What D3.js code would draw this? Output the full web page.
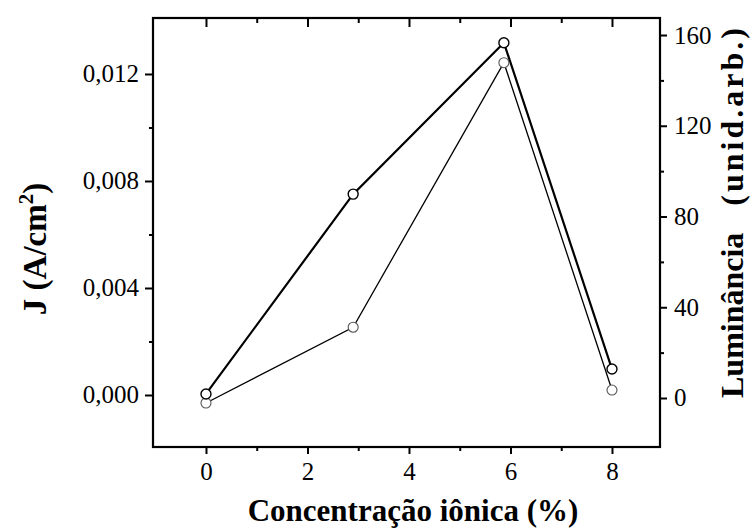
<!DOCTYPE html>
<html>
<head>
<meta charset="utf-8">
<script src="https://cdn.jsdelivr.net/npm/d3@7"></script>
<style>
  body { margin: 0; background: #fff; }
  svg { display: block; }
  text { font-family: "Liberation Serif", "Times New Roman", serif; fill: #000; }
</style>
</head>
<body>
<svg id="chart" width="753" height="529"></svg>
<script>
// Ionic concentration (%) and the two measured responses
const concentration = [0, 2.9, 5.87, 8];
const currentDensity = [0.00004, 0.00751, 0.01317, 0.00097];   // J (A/cm²)
const luminance = [-2.2, 31.2, 147.8, 3.5];                    // arbitrary units

const xMajorTicks = [0, 2, 4, 6, 8];
const xMinorTicks = [1, 3, 5, 7];
const jMajorTicks = [0, 0.004, 0.008, 0.012];
const jMinorTicks = [0.002, 0.006, 0.010];
const lumMajorTicks = [0, 40, 80, 120, 160];
const lumMinorTicks = [20, 60, 100, 140];

const frame = { left: 153, right: 660, top: 18, bottom: 447 };

const svg = d3.select("#chart");

const x = d3.scaleLinear().domain([-1.044, 8.946]).range([frame.left, frame.right]);
const yJ = d3.scaleLinear().domain([-0.001944, 0.014093]).range([frame.bottom, frame.top]);
const yL = d3.scaleLinear().domain([-21.6, 167.5]).range([frame.bottom, frame.top]);

const commaFmt = f => v => d3.format(f)(v).replace(".", ",");

function styleAxis(g, size) {
  g.select(".domain").remove();
  g.selectAll(".tick line").attr("stroke", "#000").attr("stroke-width", 2);
  g.selectAll(".tick text").style("font-size", size + "px");
}

// bottom axis
svg.append("g").attr("transform", `translate(0,${frame.bottom})`)
  .call(d3.axisBottom(x).tickValues(xMajorTicks).tickSize(7).tickPadding(8).tickFormat(d3.format("d")))
  .call(g => styleAxis(g, 25));
svg.append("g").attr("transform", `translate(0,${frame.bottom})`)
  .call(d3.axisBottom(x).tickValues(xMinorTicks).tickSize(4).tickFormat(""))
  .call(g => styleAxis(g, 25));

// top axis, ticks pointing inward
svg.append("g").attr("transform", `translate(0,${frame.top})`)
  .call(d3.axisTop(x).tickValues(xMajorTicks).tickSize(-9).tickFormat(""))
  .call(g => styleAxis(g, 25));
svg.append("g").attr("transform", `translate(0,${frame.top})`)
  .call(d3.axisTop(x).tickValues(xMinorTicks).tickSize(-5).tickFormat(""))
  .call(g => styleAxis(g, 25));

// left axis: current density
svg.append("g").attr("transform", `translate(${frame.left},0)`)
  .call(d3.axisLeft(yJ).tickValues(jMajorTicks).tickSize(8).tickPadding(6).tickFormat(commaFmt(".3f")))
  .call(g => styleAxis(g, 25));
svg.append("g").attr("transform", `translate(${frame.left},0)`)
  .call(d3.axisLeft(yJ).tickValues(jMinorTicks).tickSize(4).tickFormat(""))
  .call(g => styleAxis(g, 25));

// right axis: luminance
svg.append("g").attr("transform", `translate(${frame.right},0)`)
  .call(d3.axisRight(yL).tickValues(lumMajorTicks).tickSize(7).tickPadding(7).tickFormat(d3.format("d")))
  .call(g => styleAxis(g, 25));
svg.append("g").attr("transform", `translate(${frame.right},0)`)
  .call(d3.axisRight(yL).tickValues(lumMinorTicks).tickSize(4).tickFormat(""))
  .call(g => styleAxis(g, 25));

// plot frame
svg.append("rect")
  .attr("x", frame.left).attr("y", frame.top)
  .attr("width", frame.right - frame.left).attr("height", frame.bottom - frame.top)
  .attr("fill", "none").attr("stroke", "#000").attr("stroke-width", 2.2);

// series
const jData = concentration.map((c, i) => [c, currentDensity[i]]);
const lData = concentration.map((c, i) => [c, luminance[i]]);

svg.append("path").datum(lData)
  .attr("fill", "none").attr("stroke", "#000").attr("stroke-width", 1.3)
  .attr("d", d3.line().x(d => x(d[0])).y(d => yL(d[1])));
svg.append("path").datum(jData)
  .attr("fill", "none").attr("stroke", "#000").attr("stroke-width", 2.2)
  .attr("d", d3.line().x(d => x(d[0])).y(d => yJ(d[1])));

svg.append("g").selectAll("circle").data(lData).join("circle")
  .attr("cx", d => x(d[0])).attr("cy", d => yL(d[1])).attr("r", 5)
  .attr("fill", "#fff").attr("stroke", "#555").attr("stroke-width", 1.1);
svg.append("g").selectAll("circle").data(jData).join("circle")
  .attr("cx", d => x(d[0])).attr("cy", d => yJ(d[1])).attr("r", 5)
  .attr("fill", "#fff").attr("stroke", "#000").attr("stroke-width", 1.4);

// axis titles
svg.append("text")
  .attr("x", 413).attr("y", 521).attr("text-anchor", "middle")
  .style("font-size", "31px").style("font-weight", "bold")
  .text("Concentração iônica (%)");

const jTitle = svg.append("text")
  .attr("transform", "translate(46,249) rotate(-90)")
  .attr("text-anchor", "middle")
  .style("font-size", "33px").style("font-weight", "bold");
jTitle.append("tspan").text("J (A/cm");
jTitle.append("tspan").attr("dy", -13).style("font-size", "21px").text("2");
jTitle.append("tspan").attr("dy", 13).text(")");

const lTitle = svg.append("text")
  .attr("transform", "translate(743,398) rotate(-90)")
  .attr("text-anchor", "start")
  .style("font-size", "32px").style("font-weight", "bold");
lTitle.append("tspan").text("Luminância");
lTitle.append("tspan").attr("dx", 27).style("letter-spacing", "3px").text("(unid.arb.)");
</script>
</body>
</html>
